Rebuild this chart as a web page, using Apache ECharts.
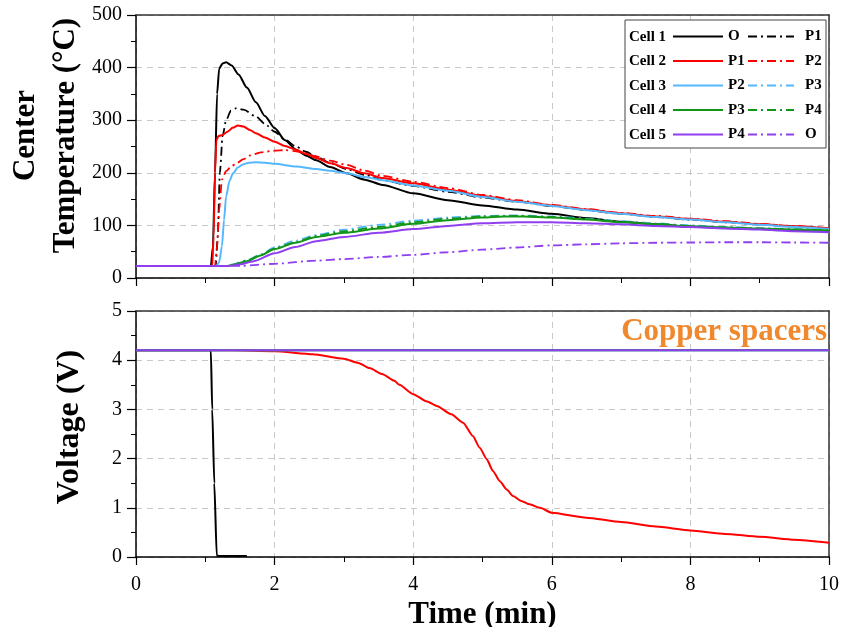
<!DOCTYPE html>
<html>
<head>
<meta charset="utf-8">
<script src="https://cdn.jsdelivr.net/npm/echarts@6/dist/echarts.min.js"></script>
<style>html,body{margin:0;padding:0;background:#fff}#c{width:856px;height:627px}</style>
</head>
<body>
<div id="c"></div>
<script>
// ---- Data (time in min, temperature in °C, voltage in V) ----
const xTicks = [0, 2, 4, 6, 8, 10];
const cell1_O = [[0,23],[1.08,23],[1.11,60],[1.14,200],[1.17,350],[1.2,398],[1.25,408],[1.3,410],[1.38,404],[1.48,387],[1.6,362],[1.73,334],[1.86,308],[2.0,285],[2.15,262],[2.31,244],[2.45,233],[2.6,224],[2.8,211],[3.04,199],[3.3,187],[3.56,177],[4.0,161],[4.5,148],[5.0,138],[5.5,130],[6.0,122],[6.5,114],[7.0,107],[7.5,102],[8.0,98],[8.5,95],[9.0,93],[9.5,91],[10,89]];
const cell1_P1 = [[0,23],[1.15,23],[1.18,80],[1.21,200],[1.25,270],[1.3,300],[1.37,318],[1.45,323],[1.55,320],[1.73,307],[1.86,293],[2.0,278],[2.15,263],[2.31,250],[2.45,240],[2.6,231],[2.8,219],[3.04,207],[3.3,196],[3.56,186],[4.0,175],[4.5,164],[5.0,153],[5.5,145],[6.0,137],[6.5,129],[7.0,122],[7.5,116],[8.0,111],[8.5,106],[9.0,102],[9.5,98],[10,94]];
const cell2_P1 = [[0,23],[1.1,23],[1.12,80],[1.14,200],[1.16,262],[1.19,270],[1.25,272],[1.32,278],[1.4,286],[1.47,290],[1.55,288],[1.65,281],[1.73,275],[1.86,267],[2.0,259],[2.15,251],[2.31,244],[2.45,236],[2.6,228],[2.8,218],[3.04,209],[3.3,199],[3.56,190],[4.0,180],[4.5,168],[5.0,156],[5.5,146],[6.0,138],[6.5,130],[7.0,123],[7.5,117],[8.0,112],[8.5,107],[9.0,102],[9.5,98],[10,94]];
const cell2_P2 = [[0,23],[1.14,23],[1.17,60],[1.2,130],[1.24,187],[1.3,203],[1.38,213],[1.45,218],[1.55,226],[1.65,233],[1.8,239],[2.0,242],[2.15,243],[2.31,241],[2.45,237],[2.6,231],[2.8,223],[3.04,215],[3.3,204],[3.56,194],[4.0,183],[4.5,171],[5.0,158],[5.5,148],[6.0,139],[6.5,131],[7.0,124],[7.5,118],[8.0,113],[8.5,108],[9.0,103],[9.5,99],[10,95]];
const cell3_P2 = [[0,23],[1.16,23],[1.2,30],[1.24,60],[1.27,110],[1.3,155],[1.35,185],[1.4,199],[1.47,210],[1.54,216],[1.63,219],[1.73,220],[1.86,219],[2.0,217],[2.31,212],[2.6,207],[2.8,204],[3.04,199],[3.3,192],[3.56,186],[4.0,176],[4.5,166],[5.0,154],[5.5,145],[6.0,137],[6.5,129],[7.0,122],[7.5,116],[8.0,111],[8.5,106],[9.0,101],[9.5,97],[10,93]];
const cell3_P3 = [[0,23],[1.3,23],[1.4,26],[1.6,34],[1.8,45],[2.0,58],[2.3,71],[2.6,82],[3.0,92],[3.5,101],[4.0,109],[4.5,115],[5.0,118],[5.5,119],[6.0,117],[6.5,113],[7.0,108],[7.5,104],[8.0,100],[8.5,97],[9.0,95],[9.5,93],[10,92]];
const cell4_P3 = [[0,23],[1.3,23],[1.4,25],[1.6,32],[1.8,43],[2.0,55],[2.3,67],[2.6,78],[3.0,86],[3.5,94],[4.0,103],[4.5,110],[5.0,115],[5.3,117],[5.6,117],[6.0,115],[6.5,111],[7.0,106],[7.5,102],[8.0,98],[8.5,96],[9.0,94],[9.5,92],[10,90]];
const cell4_P4 = [[0,23],[1.3,23],[1.4,25],[1.6,33],[1.8,44],[2.0,56],[2.3,68],[2.6,80],[3.0,89],[3.5,97],[4.0,106],[4.5,113],[5.0,117],[5.5,118],[6.0,116],[6.5,112],[7.0,107],[7.5,103],[8.0,99],[8.5,96],[9.0,94],[9.5,92],[10,91]];
const cell5_P4 = [[0,23],[1.35,23],[1.5,26],[1.7,32],[2.0,47],[2.3,59],[2.6,70],[3.0,78],[3.5,86],[4.0,93],[4.5,99],[5.0,104],[5.5,106],[6.0,106],[6.5,104],[7.0,102],[7.5,99],[8.0,97],[8.5,94],[9.0,92],[9.5,89],[10,87]];
const cell5_O = [[0,23],[1.5,23],[2.0,27],[2.6,33],[3.0,36],[3.5,40],[4.0,44],[4.5,49],[5.0,54],[5.5,58],[6.0,62],[6.5,64],[7.0,66],[7.5,67],[8.0,67.5],[8.5,68],[9.0,68],[9.5,67.5],[10,67]];
const volt_cell1 = [[0,4.2],[1.08,4.2],[1.1,3.0],[1.13,1.5],[1.165,0.03],[1.2,0.02],[1.6,0.02]];
const volt_cell2 = [[0,4.2],[1.35,4.2],[2.0,4.18],[2.55,4.12],[3.0,4.03],[3.2,3.95],[3.37,3.84],[3.55,3.72],[3.73,3.58],[3.8,3.5],[4.0,3.31],[4.2,3.16],[4.34,3.07],[4.55,2.9],[4.72,2.73],[4.86,2.46],[4.96,2.22],[5.06,1.99],[5.15,1.75],[5.25,1.54],[5.35,1.37],[5.44,1.24],[5.56,1.14],[5.68,1.07],[5.83,1.0],[6.0,0.9],[6.5,0.8],[7.0,0.71],[7.5,0.62],[8.0,0.54],[8.5,0.47],[9.0,0.41],[9.5,0.35],[10,0.29]];
const volt_cell3 = [[0,4.2],[10,4.2]];
const volt_cell4 = [[0,4.2],[10,4.2]];
const volt_cell5 = [[0,4.2],[10,4.2]];
const cellLabels = ['Cell 1','Cell 2','Cell 3','Cell 4','Cell 5'];

// ---- Styles ----
const FONT = 'Liberation Serif';
const C = {black:'#000000', red:'#ff0000', blue:'#55b8ff', green:'#12961a', purple:'#8f3ff0'};
const DASHDOT = [9,4,2,4];

function tSeries(name, data, color, dashed){
  return {name, type:'line', xAxisIndex:0, yAxisIndex:0, data, showSymbol:false, symbol:'none',
    smooth:0.25, smoothMonotone:'x', animation:false,
    lineStyle:{color, width: dashed?1.8:2, type: dashed?DASHDOT:'solid'}, itemStyle:{color}};
}
function vSeries(name, data, color){
  return {name, type:'line', xAxisIndex:1, yAxisIndex:1, data, showSymbol:false, symbol:'none',
    smooth:0.2, smoothMonotone:'x', animation:false,
    lineStyle:{color, width:2}, itemStyle:{color}};
}

const series = [
  tSeries('Cell 1|O', cell1_O, C.black, false),
  tSeries('Cell 1|P1', cell1_P1, C.black, true),
  tSeries('Cell 2|P1', cell2_P1, C.red, false),
  tSeries('Cell 2|P2', cell2_P2, C.red, true),
  tSeries('Cell 3|P2', cell3_P2, C.blue, false),
  tSeries('Cell 3|P3', cell3_P3, C.blue, true),
  tSeries('Cell 4|P3', cell4_P3, C.green, false),
  tSeries('Cell 4|P4', cell4_P4, C.green, true),
  tSeries('Cell 5|P4', cell5_P4, C.purple, false),
  tSeries('Cell 5|O', cell5_O, C.purple, true),
  vSeries('V cell 2', volt_cell2, C.red),
  vSeries('V cell 1', volt_cell1, C.black),
  vSeries('V cell 3', volt_cell3, C.blue),
  vSeries('V cell 4', volt_cell4, C.green),
  vSeries('V cell 5', volt_cell5, C.purple)
];

// legends: one per item so that columns align like the reference
const rowY = [37, 61.5, 86, 110.5, 135];
const legends = [];
const graphics = [{type:'rect', z:3, shape:{x:625, y:20, width:201, height:128},
  style:{fill:'#fff', stroke:'#444', lineWidth:1}}];
const hiddenSymbol = {color:'rgba(0,0,0,0)', borderWidth:0, borderColor:'rgba(0,0,0,0)'};
for (let i=0;i<5;i++){
  const solid = series[2*i].name, dash = series[2*i+1].name;
  legends.push({data:[solid], left:672, top:rowY[i]-8, itemWidth:50, itemHeight:16, padding:0, selectedMode:false, z:5,
    itemStyle:hiddenSymbol,
    formatter:n=>n.split('|')[1], textStyle:{fontFamily:FONT, fontWeight:'bold', fontSize:15, color:'#000'}});
  legends.push({data:[dash], left:747, top:rowY[i]-8, itemWidth:46, itemHeight:16, padding:0, selectedMode:false, z:5,
    itemStyle:hiddenSymbol,
    formatter:n=>n.split('|')[1], textStyle:{fontFamily:FONT, fontWeight:'bold', fontSize:15, color:'#000', padding:[0,0,0,6]}});
  graphics.push({type:'text', z:5, x:629, y:rowY[i], style:{text:cellLabels[i], fontFamily:FONT, fontWeight:'bold', fontSize:15, fill:'#000', textVerticalAlign:'middle', verticalAlign:'middle'}});
}
graphics.push({type:'text', z:5, x:827, y:332, style:{text:'Copper spacers', fontFamily:FONT, fontWeight:'bold', fontSize:31, fill:'#f0882e', align:'right', textAlign:'right', verticalAlign:'middle', textVerticalAlign:'middle'}});

const axisCommon = {
  axisLine:{show:true, onZero:false, lineStyle:{color:'#000', width:1.5}},
  axisTick:{show:true, inside:false, length:8, lineStyle:{color:'#000', width:1.2}},
  minorTick:{show:true, splitNumber:2, length:5, lineStyle:{color:'#000', width:1}},
  splitLine:{show:true, lineStyle:{color:'#c8c8c8', type:[6,5], width:1}},
  axisLabel:{fontFamily:FONT, fontSize:20, color:'#000'}
};
function merge(a,b){return Object.assign({}, JSON.parse(JSON.stringify(a)), b);}
const frameAxis = {axisLine:{show:true, onZero:false, lineStyle:{color:'#333', width:1.5}},
  axisTick:{show:false}, axisLabel:{show:false}, splitLine:{show:false}, minorTick:{show:false}};

const option = {
  backgroundColor:'#fff',
  animation:false,
  grid:[
    {left:136, right:27, top:15, height:263, containLabel:false, outerBoundsMode:'none'},
    {left:136, right:27, top:311, height:246, containLabel:false, outerBoundsMode:'none'}
  ],
  xAxis:[
    merge(axisCommon, {type:'value', gridIndex:0, min:0, max:10, interval:2,
      axisLabel:{show:false}}),
    merge(axisCommon, {type:'value', gridIndex:1, min:0, max:10, interval:2,
      axisLabel:{fontFamily:FONT, fontSize:20, color:'#000', margin:18, formatter:v=> xTicks.includes(v)? String(v):''},
      name:'Time (min)', nameLocation:'middle', nameGap:42, nameMoveOverlap:false,
      nameTextStyle:{fontFamily:FONT, fontWeight:'bold', fontSize:31, color:'#000'}}),
    Object.assign({type:'value', gridIndex:0, position:'top', min:0, max:10}, frameAxis),
    Object.assign({type:'value', gridIndex:1, position:'top', min:0, max:10}, frameAxis)
  ],
  yAxis:[
    merge(axisCommon, {type:'value', gridIndex:0, min:0, max:500, interval:100,
      axisTick:{show:true, length:9, lineStyle:{color:'#000', width:1.2}},
      axisLabel:{fontFamily:FONT, fontSize:20, color:'#000', margin:14},
      name:'Center\nTemperature (°C)', nameLocation:'middle', nameGap:50, nameRotate:90, nameMoveOverlap:false,
      nameTextStyle:{fontFamily:FONT, fontWeight:'bold', fontSize:31, color:'#000', lineHeight:40, align:'center', padding:[0,0,0,22]}}),
    merge(axisCommon, {type:'value', gridIndex:1, min:0, max:5, interval:1,
      axisTick:{show:true, length:9, lineStyle:{color:'#000', width:1.2}},
      axisLabel:{fontFamily:FONT, fontSize:20, color:'#000', margin:14},
      name:'Voltage (V)', nameLocation:'middle', nameGap:50, nameRotate:90, nameMoveOverlap:false,
      nameTextStyle:{fontFamily:FONT, fontWeight:'bold', fontSize:32, color:'#000', padding:[0,0,0,14]}}),
    Object.assign({type:'value', gridIndex:0, position:'right', min:0, max:500}, frameAxis),
    Object.assign({type:'value', gridIndex:1, position:'right', min:0, max:5}, frameAxis)
  ],
  legend: legends,
  graphic: graphics,
  series
};

const chart = echarts.init(document.getElementById('c'), null, {renderer:'canvas'});
chart.setOption(option);
</script>
</body>
</html>
